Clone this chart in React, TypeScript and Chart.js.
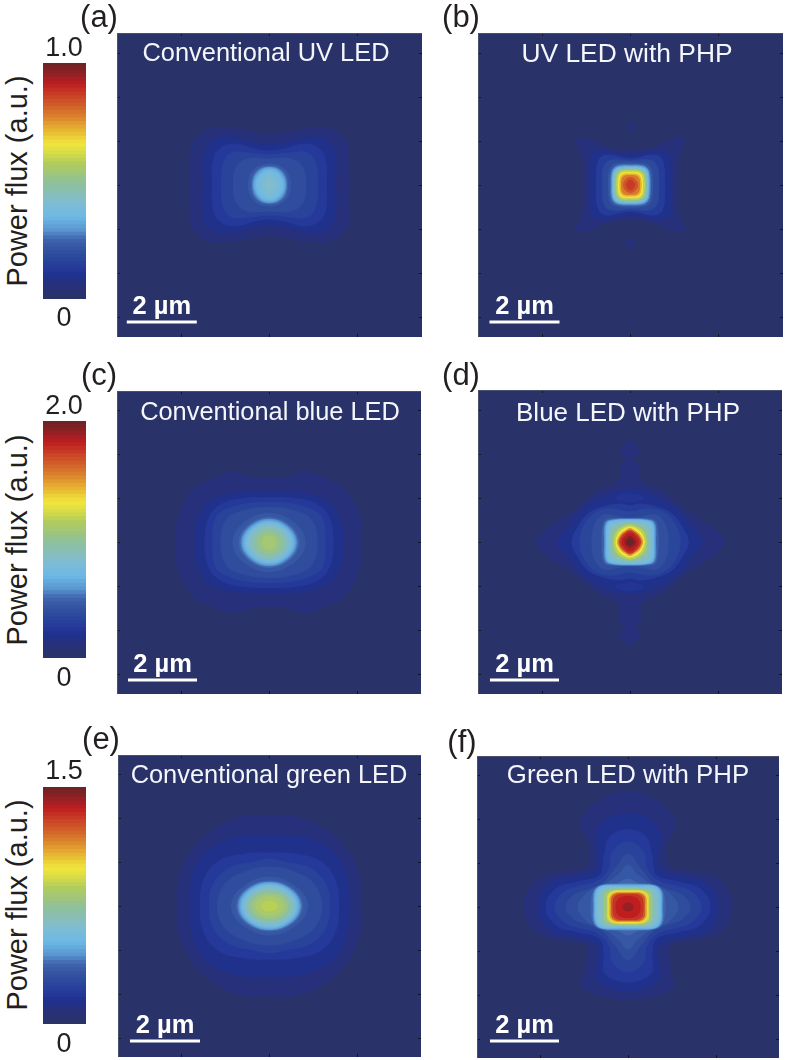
import React, { useEffect, useRef } from "react";
import { Chart, registerables } from "chart.js";

Chart.register(...registerables);

// ---- colour scale ----
const cmapLevels = [0, 0.03, 0.07, 0.11, 0.15, 0.19, 0.23, 0.27, 0.32, 0.38, 0.46, 0.54, 0.58, 0.62, 0.68, 0.74, 0.8, 0.88, 0.94, 1];
const cmapColors = ["#29336a", "#27307a", "#20318c", "#25399a", "#2a469b", "#33529f", "#4064ae", "#5a96d0", "#6cb8e6", "#80bcd2", "#8fc09a", "#b0cc5c", "#d4da48", "#f0e63c", "#e6b030", "#d87a2c", "#cc4c28", "#be1e20", "#8e2024", "#682426"];
const barBottomLevels = [0, 0.012, 0.02, 0.03, 0.05, 0.065, 0.08, 0.1, 0.115, 0.13, 0.15, 0.165, 0.18, 0.195, 0.21, 0.225, 0.24, 0.255, 0.27, 0.285, 0.3, 0.315, 0.33, 0.345, 0.36, 0.375, 0.39, 0.405, 0.42, 0.435, 0.45, 0.465, 0.48, 0.495, 0.51, 0.525, 0.54, 0.555, 0.57, 0.585, 0.6, 0.615, 0.63, 0.645, 0.66, 0.675, 0.69, 0.705, 0.72, 0.735, 0.75, 0.765, 0.78, 0.795, 0.81, 0.83, 0.85, 0.87, 0.89, 0.91, 0.93, 0.95, 0.97, 0.99];

// ---- iso-power contours: [level, points of one quadrant as x,y offsets from the centre] ----
type Contour = [number, number[], string?];

const contoursA: Contour[] = [
  [0.03, [80, 0, 79, 28, 76, 44, 60, 56, 36, 56, 14, 52, 0, 51]],
  [0.07, [66, 0, 66, 25, 60, 42, 42, 48, 20, 43, 0, 40]],
  [0.11, [57, 0, 56, 25, 50, 36, 35, 41, 15, 36, 0, 34]],
  [0.14, [48, 0, 46, 22, 38, 32, 20, 32, 0, 30]],
  [0.17, [36, 0, 33, 18, 22, 26, 0, 26]],
  [0.2, [21, 0, 16, 15, 0, 21]],
  [0.23, [18, 0, 13.5, 14, 0, 19]],
  [0.25, [17, 0, 12.5, 13.5, 0, 18]],
  [0.27, [16, 0, 11.5, 13, 0, 17.5]],
  [0.29, [15.5, 0, 11, 12, 0, 17]],
  [0.31, [14.5, 0, 10, 11.5, 0, 16]],
  [0.33, [13, 0, 9, 10.5, 0, 14.5]],
  [0.35, [11, 0, 7, 9, 0, 13]],
  [0.37, [8, 0, 5, 7, 0, 10.5]],
  [0.39, [4, 0, 2.5, 4, 0, 7]],
];
const contoursB: Contour[] = [
  [0.03, [46, 0, 47, 20, 50, 35, 55, 45, 42, 46, 25, 38, 0, 35]],
  [0.07, [40, 0, 40, 22, 38, 32, 28, 34, 0, 30]],
  [0.12, [34, 0, 32, 24, 24, 30, 0, 26]],
  [0.16, [28, 0, 26, 20, 18, 25, 0, 24]],
  [0.2, [22, 0, 20, 17, 14, 21, 0, 22]],
  [0.25, [19.5, 0, 18.5, 14, 13.5, 19, 0, 20]],
  [0.29, [18.5, 0, 17.5, 13.5, 13, 18, 0, 19]],
  [0.33, [17.5, 0, 16.5, 13, 12, 17, 0, 18]],
  [0.38, [16.5, 0, 15.5, 12, 11, 16, 0, 17]],
  [0.45, [15.5, 0, 14.5, 11, 10, 15, 0, 16]],
  [0.51, [14.5, 0, 13.5, 10.5, 9.5, 14, 0, 15]],
  [0.56, [13.5, 0, 12.5, 10, 9, 13.5, 0, 14]],
  [0.62, [12, 0, 11, 9, 8, 12, 0, 12.5]],
  [0.68, [10.5, 0, 9.5, 8, 7, 10.5, 0, 11]],
  [0.74, [9, 0, 8, 7, 5.5, 9, 0, 9.5]],
  [0.79, [7, 0, 5, 5, 0, 7.5]],
  [0.83, [4, 0, 3, 3, 0, 5]],
];
const contoursC: Contour[] = [
  [0.03, [92, 0, 91, 25, 76, 53, 60, 62, 38, 70, 12, 64, 0, 64]],
  [0.07, [74, 0, 70, 25, 60, 40, 40, 48, 15, 50, 0, 50]],
  [0.11, [64, 0, 60, 25, 48, 38, 25, 44, 0, 45]],
  [0.14, [56, 0, 53, 25, 40, 34, 20, 39, 0, 40]],
  [0.17, [48, 0, 43, 22, 28, 31, 0, 35]],
  [0.2, [36, 0, 26, 19, 0, 29]],
  [0.23, [30, 0, 21, 17, 0, 25]],
  [0.25, [28, 0, 20, 16, 0, 23.5]],
  [0.27, [27, 0, 19, 15.5, 0, 23]],
  [0.29, [26, 0, 18, 15, 0, 22]],
  [0.31, [25, 0, 17.5, 14.5, 0, 21]],
  [0.34, [23.5, 0, 16, 14, 0, 20]],
  [0.37, [21.5, 0, 15, 13, 0, 18]],
  [0.4, [19, 0, 13, 12, 0, 16.5]],
  [0.44, [16, 0, 11, 10, 0, 14]],
  [0.48, [12, 0, 8, 8, 0, 11]],
  [0.51, [7, 0, 5, 5, 0, 7]],
];
const contoursD: Contour[] = [
  [0.03, [95, 0, 85, 12, 70, 22, 58, 30, 45, 40, 30, 52, 15, 58, 8, 66, 0, 70]],
  [0.07, [72, 0, 62, 14, 50, 30, 40, 38, 20, 48, 0, 52]],
  [0.09, [-14, -44, 0, -48, 14, -44, 0, -40], "full"],
  [0.09, [-14, 45, 0, 41, 14, 45, 0, 49], "full"],
  [0.12, [58, 0, 52, 15, 42, 28, 30, 34, 10, 38, 0, 36]],
  [0.15, [50, 0, 45, 18, 33, 30, 18, 33, 0, 30]],
  [0.18, [38, 0, 35, 18, 26, 27, 10, 25, 0, 24]],
  [0.22, [28, 0, 26, 20, 20, 23, 0, 23]],
  [0.26, [25.5, 0, 24.5, 19, 18, 22, 0, 23]],
  [0.29, [24.5, 0, 23.5, 18.5, 17.5, 21.5, 0, 22.5]],
  [0.32, [23.5, 0, 22.5, 18, 17, 21, 0, 22]],
  [0.36, [22, 0, 21, 17, 15, 20, 0, 21]],
  [0.41, [20, 0, 18.5, 14, 13, 18, 0, 20]],
  [0.47, [18, 0, 16, 12, 10, 16, 0, 18.5]],
  [0.55, [16, 0, 13.5, 10, 8, 14.5, 0, 17]],
  [0.62, [14, 0, 11, 9, 6.5, 13, 0, 15]],
  [0.7, [12.5, 0, 9, 8, 5, 11, 0, 13.5]],
  [0.78, [11, 0, 8, 7, 4, 10, 0, 12]],
  [0.84, [10, 0, 7, 6.5, 0, 11]],
  [0.89, [8, 0, 5.5, 5.5, 0, 9]],
  [0.95, [5, 0, 3.5, 3.5, 0, 5.5]],
  [1, [3, 0, 2, 2, 0, 3]],
];
const contoursE: Contour[] = [
  [0.03, [92, 0, 91, 25, 80, 52, 62, 72, 32, 88, 0, 90]],
  [0.07, [79, 0, 77, 28, 65, 52, 35, 68, 0, 70]],
  [0.11, [69, 0, 66, 25, 52, 44, 25, 52, 0, 53]],
  [0.14, [60, 0, 56, 22, 40, 38, 15, 44, 0, 47]],
  [0.17, [52, 0, 46, 20, 30, 32, 0, 39]],
  [0.2, [38, 0, 28, 18, 0, 29]],
  [0.23, [33, 0, 24, 17, 0, 25]],
  [0.25, [31.5, 0, 23, 16, 0, 24]],
  [0.27, [30.5, 0, 22.5, 15.5, 0, 23.5]],
  [0.29, [29.5, 0, 22, 15, 0, 23]],
  [0.31, [28.5, 0, 21, 14.5, 0, 22]],
  [0.34, [27, 0, 20, 14, 0, 21]],
  [0.37, [25.5, 0, 19, 13, 0, 19.5]],
  [0.41, [23.5, 0, 17, 12, 0, 17.5]],
  [0.45, [21, 0, 15, 10.5, 0, 15]],
  [0.49, [18, 0, 13, 9, 0, 12.5]],
  [0.52, [14, 0, 10, 7, 0, 9.5]],
  [0.55, [8, 0, 5.5, 4, 0, 5]],
];
const contoursF: Contour[] = [
  [0.03, [0, -116, 22, -110, 45, -92, 47, -80, 38, -62, 42, -40, 60, -36, 85, -30, 98, -18, 104, 0, 98, 18, 86, 28, 60, 34, 42, 38, 42, 60, 46, 78, 38, 85, 20, 90, 0, 93], "half"],
  [0.07, [0, -93, 20, -88, 32, -73, 30, -55, 32, -38, 55, -30, 78, -24, 90, 0, 78, 24, 55, 30, 32, 38, 30, 55, 32, 70, 20, 80, 0, 84], "half"],
  [0.11, [0, -77, 18, -70, 24, -50, 28, -32, 50, -25, 72, -18, 82, 0, 72, 18, 50, 25, 28, 32, 24, 50, 24, 65, 12, 73, 0, 75], "half"],
  [0.14, [73, 0, 65, 14, 48, 21, 32, 25, 19, 38, 15, 56, 0, 65]],
  [0.17, [62, 0, 54, 12, 38, 18, 26, 23, 13, 38, 0, 53]],
  [0.2, [50, 0, 42, 13, 32, 19, 24, 22, 10, 32, 0, 42]],
  [0.23, [37, 0, 34, 17, 27, 22, 10, 24, 0, 28]],
  [0.26, [34.5, 0, 33.5, 16, 27, 21, 12, 22.5, 0, 23]],
  [0.29, [33.5, 0, 32.5, 16, 26.5, 21, 12, 22, 0, 22]],
  [0.32, [32.5, 0, 31.5, 15.5, 26, 20.5, 12, 21, 0, 21]],
  [0.36, [31, 0, 30, 14.5, 24, 19.5, 10, 20, 0, 20]],
  [0.4, [29, 0, 28, 14, 22, 18.5, 8, 19, 0, 19]],
  [0.5, [24, 0, 23, 14, 18, 17, 8, 18, 0, 18]],
  [0.58, [20.5, 0, 20, 12, 15.5, 15.5, 7, 16.5, 0, 16.5]],
  [0.63, [19, 0, 18.5, 11, 14, 15, 6, 15.5, 0, 15.5]],
  [0.7, [18, 0, 17.5, 10.5, 13, 14, 5, 14.5, 0, 14.5]],
  [0.78, [16.5, 0, 16, 10, 12, 13, 5, 13.5, 0, 13.5]],
  [0.84, [15, 0, 14, 9, 10, 12, 4, 12.5, 0, 12.5]],
  [0.88, [12, 0, 10, 7.5, 5, 10, 0, 10.5]],
  [0.93, [5, 0, 3.5, 3, 0, 4]],
];

// small isolated spots: x, y, radius, level
const spotsB = [[0, -58, 4, 0.03], [0, 58, 4.5, 0.03]];
const spotsD = [[0, -92, 9, 0.03], [0, -72, 10, 0.03], [0, 73, 12, 0.03], [0, 92, 10, 0.03]];

const xTicks = [-88, 0, 88];
const yTicks = [-132, -88, -44, 0, 44, 88, 132];
const scaleBarA = [-142.7, -72.7, 137];
const scaleBarB = [-141, -71, 137];
const scaleBarC = [-141, -72, 137.5];
const scaleBarD = [-140, -71, 138];
const scaleBarE = [-139.5, -69.5, 135];
const scaleBarF = [-138, -69, 134];

const panelTitles = ["Conventional UV LED", "UV LED with PHP", "Conventional blue LED", "Blue LED with PHP", "Conventional green LED", "Green LED with PHP"];
const panelLetters = ["(a)", "(b)", "(c)", "(d)", "(e)", "(f)"];
const barMaxLabels = ["1.0", "2.0", "1.5"];
const barMinLabel = "0";
const barAxisTitle = "Power flux (a.u.)";
const scaleBarLabel = "2 µm";

const panels = [
  { box: [117, 33, 305, 304], contours: contoursA, spots: [], bar: scaleBarA, title: [266, 53], titleSize: 25.4, letter: [99, 16] },
  { box: [478, 33, 305, 304], contours: contoursB, spots: spotsB, bar: scaleBarB, title: [627, 53], titleSize: 26.4, letter: [461, 16] },
  { box: [117, 391, 304, 303], contours: contoursC, spots: [], bar: scaleBarC, title: [270, 412], titleSize: 25.4, letter: [99, 374] },
  { box: [478, 390, 304, 304], contours: contoursD, spots: spotsD, bar: scaleBarD, title: [628, 412], titleSize: 26, letter: [461, 374] },
  { box: [118, 755, 303, 302], contours: contoursE, spots: [], bar: scaleBarE, title: [269, 775], titleSize: 25.4, letter: [101, 738] },
  { box: [477, 756, 302, 302], contours: contoursF, spots: [], bar: scaleBarF, title: [628, 775], titleSize: 25.8, letter: [462, 741] },
];
const colorBars = [
  { box: [43, 62.5, 43, 236.5], maxY: 47, minY: 317, titleY: 181 },
  { box: [43, 421, 43, 237], maxY: 405, minY: 677, titleY: 540 },
  { box: [43, 787, 43, 237], maxY: 770, minY: 1043, titleY: 905 },
];

const FONT = '"Liberation Sans", Arial, sans-serif';
const INK = "#231f20";

function hex(c: string) {
  return [1, 3, 5].map((i) => parseInt(c.slice(i, i + 2), 16));
}
function levelColor(v: number) {
  let i = 0;
  while (i < cmapLevels.length - 2 && v > cmapLevels[i + 1]) i++;
  const t = Math.min(1, Math.max(0, (v - cmapLevels[i]) / (cmapLevels[i + 1] - cmapLevels[i])));
  const a = hex(cmapColors[i]);
  const b = hex(cmapColors[i + 1]);
  const m = a.map((p, k) => Math.round(p + (b[k] - p) * t));
  return `rgb(${m[0]},${m[1]},${m[2]})`;
}
function closedPath(flat: number[], kind?: string) {
  const pts: { x: number; y: number }[] = [];
  for (let i = 0; i < flat.length; i += 2) pts.push({ x: flat[i], y: flat[i + 1] });
  let ring: { x: number; y: number }[];
  if (kind === "full") {
    ring = pts;
  } else if (kind === "half") {
    const back = pts.slice(1, -1).reverse().map((p) => ({ x: -p.x, y: p.y }));
    ring = [...pts, ...back];
  } else {
    const rev = pts.slice(0, -1).reverse();
    const q2 = rev.map((p) => ({ x: -p.x, y: p.y }));
    const q3 = pts.slice(1).map((p) => ({ x: -p.x, y: -p.y }));
    const q4 = rev.slice(0, -1).map((p) => ({ x: p.x, y: -p.y }));
    ring = [...pts, ...q2, ...q3, ...q4];
  }
  // overlap the ends so that the curve keeps its tangent where it closes
  return [ring[ring.length - 1], ...ring, ring[0], ring[1]];
}

const noLabels = { display: false };
function edgeAxis(position: string, ticks: number[], half: number) {
  const horizontal = position === "top" || position === "bottom";
  return {
    type: "linear",
    position,
    min: -half,
    max: half,
    reverse: !horizontal,
    ticks: noLabels,
    afterBuildTicks: (s: any) => {
      s.ticks = ticks.map((value) => ({ value }));
    },
    afterFit: (s: any) => {
      if (horizontal) s.height = 0;
      else s.width = 0;
    },
    grid: { drawOnChartArea: false, drawTicks: true, tickLength: -3, tickColor: "#15151f", tickWidth: 1 },
    border: { display: true, color: "#4a4f6e", width: 1 },
  };
}

function HeatPanel({ p }: { p: (typeof panels)[number] }) {
  const ref = useRef<HTMLCanvasElement>(null);
  useEffect(() => {
    const [, , w, h] = p.box;
    const datasets: any[] = [];
    p.contours.forEach((c: Contour) => {
      const col = levelColor(c[0]);
      datasets.push({
        data: closedPath(c[1], c[2]),
        showLine: true,
        tension: 0.4,
        fill: "shape",
        backgroundColor: col,
        borderColor: col,
        borderWidth: 1,
        pointRadius: 0,
        order: 100 - c[0] * 50,
      });
    });
    if (p.spots.length) {
      datasets.push({
        data: p.spots.map((s: number[]) => ({ x: s[0], y: s[1] })),
        showLine: false,
        pointRadius: p.spots.map((s: number[]) => s[2]),
        pointBackgroundColor: p.spots.map((s: number[]) => levelColor(s[3])),
        pointBorderWidth: 0,
        order: 200,
      });
    }
    datasets.push({
      data: [{ x: p.bar[0], y: p.bar[2] }, { x: p.bar[1], y: p.bar[2] }],
      showLine: true,
      borderColor: "#ffffff",
      borderWidth: 3,
      pointRadius: 0,
      order: -10,
    });
    const chart = new Chart(ref.current!, {
      type: "scatter",
      data: { datasets },
      options: {
        animation: false,
        responsive: false,
        events: [],
        layout: { padding: 0, autoPadding: false },
        plugins: { legend: { display: false }, tooltip: { enabled: false } },
        scales: {
          x: edgeAxis("bottom", xTicks, w / 2),
          xTop: edgeAxis("top", xTicks, w / 2),
          y: edgeAxis("left", yTicks, h / 2),
          yRight: edgeAxis("right", yTicks, h / 2),
        },
      } as any,
    });
    return () => chart.destroy();
  }, [p]);
  return (
    <canvas
      ref={ref}
      width={p.box[2]}
      height={p.box[3]}
      style={{ position: "absolute", left: p.box[0], top: p.box[1], width: p.box[2], height: p.box[3], background: cmapColors[0] }}
    />
  );
}

function ColorBar({ b }: { b: (typeof colorBars)[number] }) {
  const ref = useRef<HTMLCanvasElement>(null);
  useEffect(() => {
    const levels = [...barBottomLevels].reverse();
    const chart = new Chart(ref.current!, {
      type: "bar",
      data: {
        labels: levels.map(String),
        datasets: [
          {
            data: levels.map(() => 1),
            backgroundColor: levels.map(levelColor),
            barPercentage: 1,
            categoryPercentage: 1,
            inflateAmount: 1,
          },
        ],
      },
      options: {
        animation: false,
        responsive: false,
        events: [],
        indexAxis: "y",
        layout: { padding: 0, autoPadding: false },
        plugins: { legend: { display: false }, tooltip: { enabled: false } },
        scales: {
          x: { display: false, min: 0, max: 1 },
          y: { display: false },
        },
      } as any,
    });
    return () => chart.destroy();
  }, [b]);
  return (
    <canvas
      ref={ref}
      width={b.box[2]}
      height={b.box[3]}
      style={{ position: "absolute", left: b.box[0], top: b.box[1], width: b.box[2], height: b.box[3] }}
    />
  );
}

function Label({ x, y, size, color, bold, rotate, children }: any) {
  return (
    <div
      style={{
        position: "absolute",
        left: x,
        top: y,
        transform: `translate(-50%,-50%)${rotate ? " rotate(-90deg)" : ""}`,
        font: `${bold ? "bold " : ""}${size}px ${FONT}`,
        color,
        whiteSpace: "nowrap",
        lineHeight: 1,
      }}
    >
      {children}
    </div>
  );
}

export default function App() {
  return (
    <div style={{ position: "absolute", left: 0, top: 0, width: 787, height: 1060, background: "#fff", overflow: "hidden" }}>
      {panels.map((p, i) => (
        <React.Fragment key={i}>
          <HeatPanel p={p} />
          <Label x={p.title[0]} y={p.title[1]} size={p.titleSize} color="#f4f6fb">{panelTitles[i]}</Label>
          <Label x={p.letter[0]} y={p.letter[1]} size={31} color={INK}>{panelLetters[i]}</Label>
          <Label
            x={p.box[0] + p.box[2] / 2 + (p.bar[0] + p.bar[1]) / 2}
            y={p.box[1] + p.box[3] / 2 + p.bar[2] - 16}
            size={25.5}
            bold
            color="#ffffff"
          >
            {scaleBarLabel}
          </Label>
        </React.Fragment>
      ))}
      {colorBars.map((b, i) => (
        <React.Fragment key={i}>
          <ColorBar b={b} />
          <Label x={64} y={b.maxY} size={27} color={INK}>{barMaxLabels[i]}</Label>
          <Label x={64} y={b.minY} size={27} color={INK}>{barMinLabel}</Label>
          <Label x={17} y={b.titleY} size={29} rotate color={INK}>{barAxisTitle}</Label>
        </React.Fragment>
      ))}
    </div>
  );
}
